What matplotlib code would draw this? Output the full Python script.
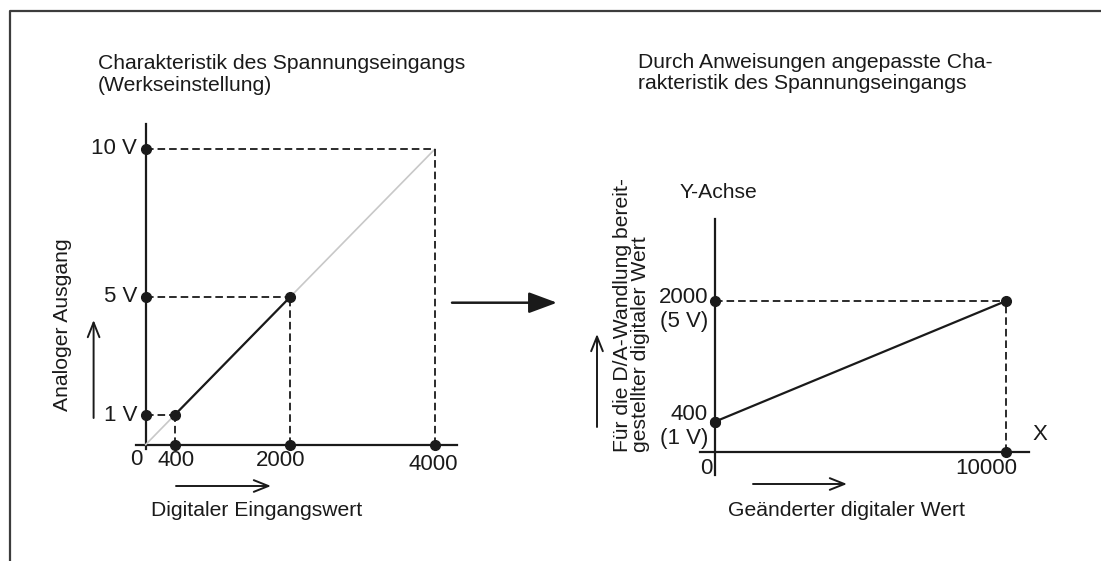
import matplotlib
matplotlib.use("Agg")
import matplotlib.pyplot as plt
from matplotlib.patches import FancyArrowPatch

plt.rcParams["font.family"] = ["Liberation Sans", "DejaVu Sans"]

W, H = 1101, 561

# factory setting: digital input -> analog output
left_x_ticks = [400, 2000, 4000]
left_x_labels = ["400", "2000", "4000"]
left_y_ticks = [1, 5, 10]
left_y_labels = ["1 V", "5 V", "10 V"]
left_full = ([0, 4000], [0, 10])
left_used = ([400, 2000], [1, 5])

# characteristic adjusted by instructions
right_x_ticks = [10000]
right_x_labels = ["10000"]
right_y_ticks = [400, 2000]
right_y_labels = ["400", "2000"]
right_y_volts = ["(1 V)", "(5 V)"]
right_line = ([0, 10000], [400, 2000])

INK = "#1a1a1a"
LW = 1.6
DASH = (0, (4.2, 2.2))
DOT = 7
FS = 15.2
TFS = 16


def px(x, y):
    """pixel (from top-left) -> figure fraction"""
    return x / W, 1 - y / H


def box(x0, y0, x1, y1):
    return [x0 / W, 1 - y1 / H, (x1 - x0) / W, (y1 - y0) / H]


fig = plt.figure(figsize=(W / 100, H / 100), dpi=100)

# frame
fig.add_artist(plt.Line2D([9.5 / W, 9.5 / W, 1], [0, 1 - 10.5 / H, 1 - 10.5 / H],
                          transform=fig.transFigure, color="#3c3c3c", lw=1.6))


def arrow(x0, y0, x1, y1, style="->,head_length=0.75,head_width=0.3", ms=14, lw=1.4):
    a = FancyArrowPatch(px(x0, y0), px(x1, y1), transform=fig.transFigure,
                        arrowstyle=style, mutation_scale=ms, color=INK,
                        lw=lw, shrinkA=0, shrinkB=0)
    fig.add_artist(a)


def ftext(x, y, s, **kw):
    kw.setdefault("fontsize", FS)
    kw.setdefault("color", INK)
    fig.text(*px(x, y), s, **kw)


def label(ax, s, xy, dx, dy, **kw):
    kw.setdefault("fontsize", TFS)
    ax.annotate(s, xy, xytext=(dx, dy), textcoords="offset points",
                color=INK, **kw)


# ---- left chart ----
ax1 = fig.add_axes(box(145.7, 149, 435, 444.6))
ax1.set_xlim(0, 4000)
ax1.set_ylim(0, 10)
ax1.axis("off")

ax1.plot([-134, 4304], [0, 0], color=INK, lw=LW, clip_on=False)
ax1.plot([0, 0], [-0.15, 10.85], color=INK, lw=LW, clip_on=False)
ax1.plot(*left_full, color="#c8c8c8", lw=1.2, clip_on=False)
for xv, yv in zip(left_x_ticks, left_y_ticks):
    ax1.plot([0, xv], [yv, yv], color=INK, lw=1.3, ls=DASH, clip_on=False)
    ax1.plot([xv, xv], [0, yv], color=INK, lw=1.3, ls=DASH, clip_on=False)
ax1.plot(*left_used, color=INK, lw=LW, clip_on=False)

ax1.plot([0] * len(left_y_ticks), left_y_ticks, "o", color=INK, ms=DOT, clip_on=False)
ax1.plot(left_x_ticks, [0] * len(left_x_ticks), "o", color=INK, ms=DOT, clip_on=False)
ax1.plot(*left_used, "o", color=INK, ms=DOT, clip_on=False)

for yv, lab in zip(left_y_ticks, left_y_labels):
    label(ax1, lab, (0, yv), -6, 0, ha="right", va="center")
for xv, lab, dx, dy in zip(left_x_ticks, left_x_labels, [1, -7, -1.5], [-4, -4, -7]):
    label(ax1, lab, (xv, 0), dx, dy, ha="center", va="top")
label(ax1, "0", (0, 0), -2, -3, ha="right", va="top")

ftext(98, 63.5, "Charakteristik des Spannungseingangs", va="center")
ftext(98, 85.7, "(Werkseinstellung)", va="center")
ftext(62.5, 325, "Analoger Ausgang", rotation=90, ha="center", va="center")
ftext(257, 511, "Digitaler Eingangswert", ha="center", va="center")
arrow(93.6, 418, 93.6, 320)
arrow(176, 486, 271, 486)

# arrow between the charts
arrow(452, 302.7, 557, 302.7, style="-|>,head_length=1.24,head_width=0.46", ms=14, lw=1.8)

# ---- right chart ----
ax2 = fig.add_axes(box(715, 301, 1006, 451.8))
ax2.set_xlim(0, 10000)
ax2.set_ylim(0, 2000)
ax2.axis("off")

ax2.plot([-515, 10777], [0, 0], color=INK, lw=LW, clip_on=False)
ax2.plot([0, 0], [-308, 3093], color=INK, lw=LW, clip_on=False)
xe, ye = right_line[0][1], right_line[1][1]
ax2.plot([0, xe], [ye, ye], color=INK, lw=1.3, ls=DASH, clip_on=False)
ax2.plot([xe, xe], [0, ye], color=INK, lw=1.3, ls=DASH, clip_on=False)
ax2.plot(*right_line, color=INK, lw=LW, clip_on=False)

ax2.plot([0] * len(right_y_ticks), right_y_ticks, "o", color=INK, ms=DOT, clip_on=False)
ax2.plot(right_x_ticks, [0] * len(right_x_ticks), "o", color=INK, ms=DOT, clip_on=False)
ax2.plot(*right_line, "o", color=INK, ms=DOT, clip_on=False)

for yv, lab, volt, dy in zip(right_y_ticks, right_y_labels, right_y_volts, [5, 2.5]):
    label(ax2, lab, (0, yv), -5, dy, ha="right", va="center")
    label(ax2, volt, (0, yv), -5, dy - 17, ha="right", va="center")
for xv, lab in zip(right_x_ticks, right_x_labels):
    label(ax2, lab, (xv, 0), -14.5, -4.5, ha="center", va="top")
label(ax2, "0", (0, 0), -2, -4.5, ha="right", va="top")

ftext(1040, 435, "X", ha="center", va="center", fontsize=TFS)
ftext(718.6, 193, "Y-Achse", ha="center", va="center")
ftext(638, 62.5, "Durch Anweisungen angepasste Cha-", va="center")
ftext(638, 84, "rakteristik des Spannungseingangs", va="center")
ftext(631.8, 452, "Für die D/A-Wandlung bereit-\ngestellter digitaler Wert",
      rotation=90, ha="left", va="center", multialignment="left",
      linespacing=0.95, rotation_mode="anchor")
ftext(847, 511, "Geänderter digitaler Wert", ha="center", va="center")
arrow(597, 427, 597, 334)
arrow(753, 484, 847, 484)

fig.savefig("out.png", dpi=100)
